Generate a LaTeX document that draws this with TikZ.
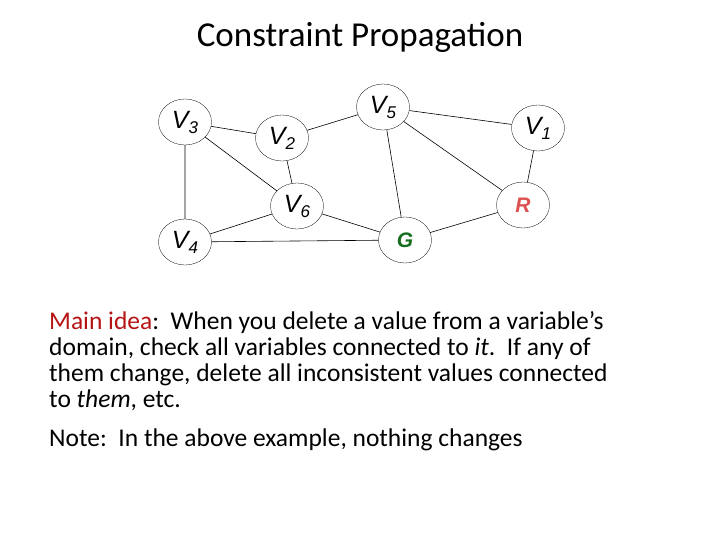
\documentclass[tikz,border=0pt]{standalone}
\usepackage{fontspec}
\setmainfont{Carlito}
\newfontfamily\arial{Liberation Sans}
\usetikzlibrary{shapes.geometric}
\definecolor{gdark}{RGB}{20,110,30}
\definecolor{rred}{RGB}{220,80,80}
\definecolor{ideared}{RGB}{180,20,20}
\newcommand{\vsub}[1]{\raisebox{-5pt}{\fontsize{17}{17}\selectfont #1}}
\begin{document}
\begin{tikzpicture}[x=1pt,y=-1pt,
  vx/.style={ellipse,draw,line width=0.3pt,minimum width=53pt,minimum height=46pt,inner sep=0pt,font=\arial\itshape\fontsize{25}{25}\selectfont},
  ed/.style={line width=0.6pt}]
\useasboundingbox (0,0) rectangle (720,540);
\node[font=\fontsize{35}{40}\selectfont] (title) at (360,37) {Constraint Propagation};
\node[vx] (v3) at (185,122) {V\vsub{3}};
\node[vx] (v2) at (282,138) {V\vsub{2}};
\node[vx] (v5) at (383,107) {V\vsub{5}};
\node[vx] (v1) at (538,128) {V\vsub{1}};
\node[vx] (v6) at (297,206) {V\vsub{6}};
\node[vx,text=rred,font=\arial\bfseries\itshape\fontsize{21}{21}\selectfont] (r) at (523,205) {R};
\node[vx] (v4) at (185,242) {V\vsub{4}};
\node[vx,text=gdark,font=\arial\bfseries\itshape\fontsize{21}{21}\selectfont] (g) at (405,240) {G};
\draw[ed] (v3)--(v2) (v3)--(v6) (v3)--(v4) (v2)--(v5) (v2)--(v6) (v5)--(v1) (v5)--(g) (v5)--(r) (v1)--(r) (v6)--(v4) (v6)--(g) (v4)--(g) (g)--(r);
\node[anchor=north west,align=left,inner sep=0pt,font=\fontsize{25.5}{26}\selectfont] (main) at (49,311)
 {\textcolor{ideared}{Main idea}:\ \ When you delete a value from a variable’s\\ domain, check all variables connected to \textit{it}.\ \ If any of\\ them change, delete all inconsistent values connected\\ to \textit{them}, etc.};
\node[anchor=north west,inner sep=0pt,font=\fontsize{25.5}{26}\selectfont] (note) at (49,429) {Note:\ \ In the above example, nothing changes};
\end{tikzpicture}
\end{document}
